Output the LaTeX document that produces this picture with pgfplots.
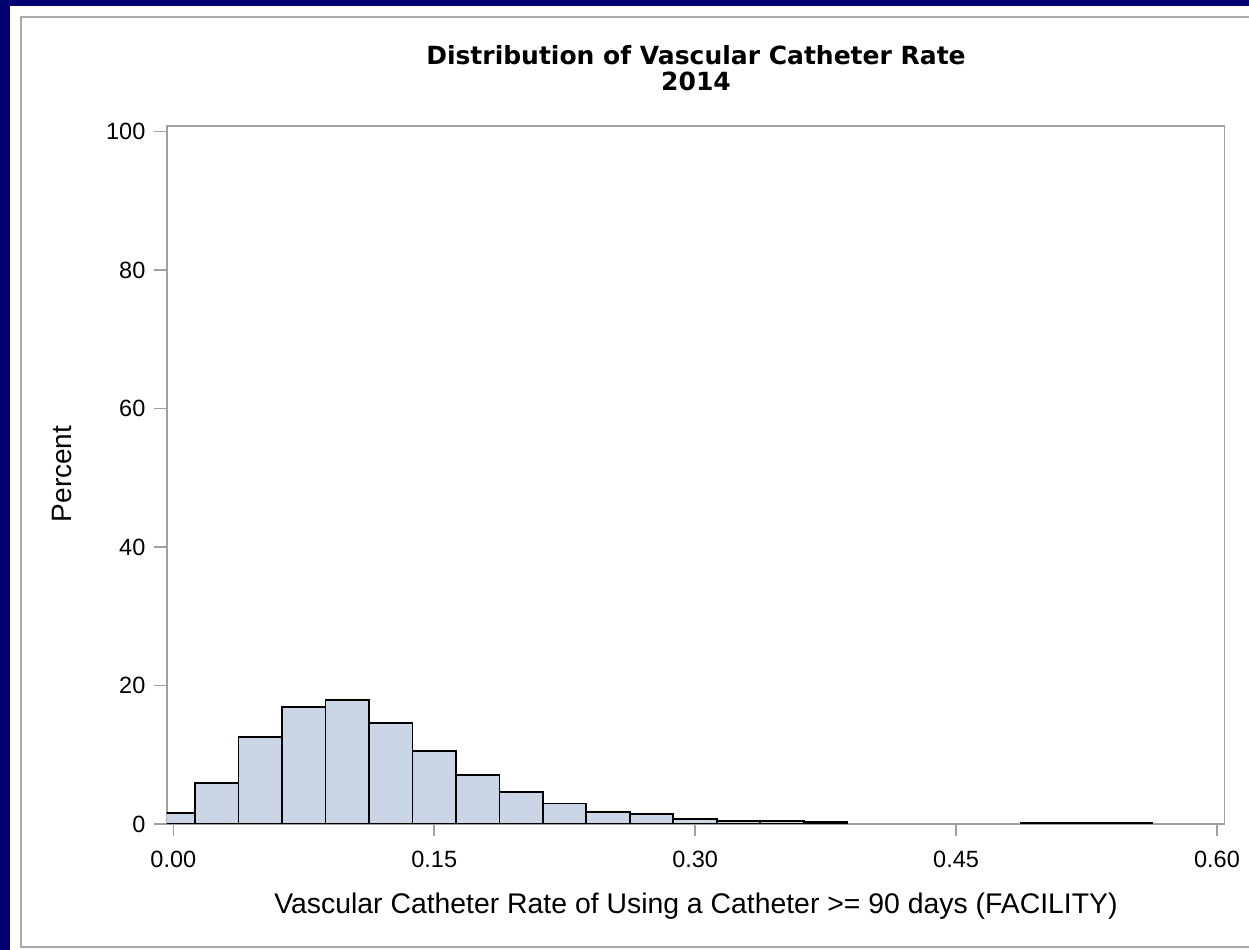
\documentclass[border=0pt]{standalone}
\usepackage{fontspec}
\setmainfont{Liberation Sans}
\newfontfamily\titlefont{DejaVu Sans}
\usepackage{pgfplots}
\pgfplotsset{compat=1.18}
\definecolor{navyc}{RGB}{0,0,112}
\definecolor{framegray}{RGB}{170,170,170}
\definecolor{axisgray}{RGB}{160,160,160}
\definecolor{barfill}{HTML}{CAD5E5}
\begin{document}
\begin{tikzpicture}[x=0.4pt,y=0.4pt]
\useasboundingbox (0,0) rectangle (1249,950);
\fill[navyc] (0,0) rectangle (1249,950);
\fill[white] (10,0) rectangle (1249,944);
\draw[framegray, line width=0.8pt] (1250,933.3) -- (20.7,933.3) -- (20.7,3.3) -- (1250,3.3);
\begin{axis}[
  at={(66.68pt,50.4pt)}, anchor=south west,
  width=423.1pt, height=279.2pt, scale only axis,
  xmin=-0.0038, xmax=0.6043, ymin=0, ymax=100.8,
  axis line style={draw=axisgray, line width=0.7pt},
  xtick={0,0.15,0.3,0.45,0.6}, ytick={0,20,40,60,80,100},
  tick align=outside, tick pos=left, major tick length=5pt,
  tick style={draw=axisgray, line width=0.6pt},
  scaled x ticks=false,
  xticklabel style={yshift=-2.4pt, /pgf/number format/fixed, /pgf/number format/fixed zerofill, /pgf/number format/precision=2},
  ticklabel style={font=\fontsize{9.4}{11}\selectfont},
  /pgf/number format/assume math mode=true,
]
\addplot[ybar, bar width=0.025, fill=barfill, draw=black, line width=0.75pt] coordinates {
(0.000,1.54) (0.025,5.92) (0.050,12.5) (0.075,16.9) (0.100,17.86)
(0.125,14.53) (0.150,10.6) (0.175,7.12) (0.200,4.66) (0.225,2.96)
(0.250,1.72) (0.275,1.49) (0.300,0.78) (0.325,0.48) (0.350,0.48)
(0.375,0.25) (0.500,0.08) (0.525,0.08) (0.550,0.08)
};
\end{axis}
\node[font=\titlefont\bfseries\fontsize{10}{12}\selectfont] at (696,894.5) {Distribution of Vascular Catheter Rate};
\node[font=\titlefont\bfseries\fontsize{10}{12}\selectfont] at (696,869) {2014};
\node[font=\fontsize{11.35}{13}\selectfont] at (696,44) {Vascular Catheter Rate of Using a Catheter >= 90 days (FACILITY)};
\node[rotate=90, font=\fontsize{11.2}{13}\selectfont] at (62,476) {Percent};
\end{tikzpicture}
\end{document}
